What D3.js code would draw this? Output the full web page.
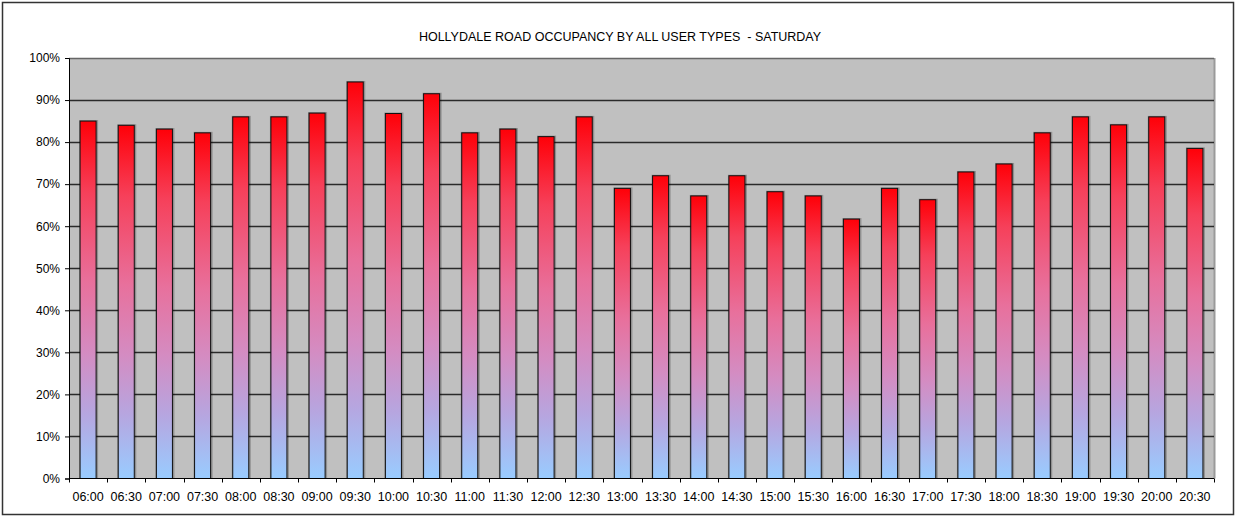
<!DOCTYPE html>
<html>
<head>
<meta charset="utf-8">
<script src="https://cdn.jsdelivr.net/npm/d3@7"></script>
<style>
  html, body { margin: 0; padding: 0; background: #fff; }
  svg { display: block; }
  text { font-family: "Liberation Sans", Arial, sans-serif; fill: #000; }
</style>
</head>
<body>
<svg id="chart" width="1236" height="517"></svg>
<script>
// Half-hour time slots across the day
const times = ["06:00","06:30","07:00","07:30","08:00","08:30","09:00","09:30","10:00","10:30",
  "11:00","11:30","12:00","12:30","13:00","13:30","14:00","14:30","15:00","15:30",
  "16:00","16:30","17:00","17:30","18:00","18:30","19:00","19:30","20:00","20:30"];

// Occupancy (fraction of spaces used) per slot
const occupancy = [0.85, 0.84, 0.831, 0.822, 0.86, 0.86, 0.869, 0.943, 0.868, 0.915,
  0.822, 0.831, 0.813, 0.86, 0.69, 0.72, 0.672, 0.72, 0.682, 0.672,
  0.617, 0.69, 0.663, 0.729, 0.748, 0.822, 0.86, 0.841, 0.86, 0.785];

const yTicks = [0, 0.1, 0.2, 0.3, 0.4, 0.5, 0.6, 0.7, 0.8, 0.9, 1.0];
const title = "HOLLYDALE ROAD OCCUPANCY BY ALL USER TYPES  - SATURDAY";

const svg = d3.select("#chart");
const plot = { left: 69, right: 1214, top: 58, bottom: 478.5 };

const x = d3.scaleBand().domain(times).range([plot.left, plot.right]).paddingInner(0.58).paddingOuter(0.29);
const xEdge = d3.scaleBand().domain(times).range([plot.left, plot.right]);
const y = d3.scaleLinear().domain([0, 1]).range([plot.bottom, plot.top]);

// Gradient from red at the bar top to light blue at its base
const defs = svg.append("defs");
const grad = defs.append("linearGradient").attr("id", "barFill")
  .attr("x1", 0).attr("y1", 0).attr("x2", 0).attr("y2", 1);
[[0, "#ff0008"], [0.2, "#f6405a"], [0.45, "#e8709c"], [0.65, "#d48cc2"],
 [0.82, "#b6a6e0"], [1, "#99ccff"]].forEach(([o, c]) =>
  grad.append("stop").attr("offset", o).attr("stop-color", c));

// Outer chart frame
svg.append("rect").attr("x", 2.5).attr("y", 2.5).attr("width", 1231).attr("height", 512)
  .attr("fill", "#fff").attr("stroke", "#333").attr("stroke-width", 1.5);

// Title
svg.append("text").attr("x", 620).attr("y", 41).attr("text-anchor", "middle")
  .style("font-size", "12.5px").style("white-space", "pre").text(title);

// Plot area background
svg.append("rect").attr("x", plot.left).attr("y", plot.top)
  .attr("width", plot.right - plot.left).attr("height", plot.bottom - plot.top)
  .attr("fill", "#c0c0c0");
svg.append("line").attr("x1", plot.right + 0.5).attr("x2", plot.right + 0.5)
  .attr("y1", plot.top).attr("y2", plot.bottom).attr("stroke", "#9a9a9a").attr("stroke-width", 2);

// Horizontal gridlines
svg.append("g").selectAll("line").data(yTicks.slice(1)).join("line")
  .attr("x1", plot.left).attr("x2", plot.right)
  .attr("y1", d => Math.round(y(d)) + 0.5).attr("y2", d => Math.round(y(d)) + 0.5)
  .attr("stroke", d => d === 1 ? "#666" : "#2a2a2a").attr("stroke-width", 1.3);

// Bar shadows
svg.append("g").selectAll("rect").data(occupancy).join("rect")
  .attr("x", (d, i) => x(times[i]) - 1)
  .attr("y", d => y(d) - 1)
  .attr("width", x.bandwidth() + 3)
  .attr("height", d => plot.bottom - y(d) + 1)
  .attr("fill", "#000").attr("opacity", 0.25);

// Bars
svg.append("g").selectAll("rect").data(occupancy).join("rect")
  .attr("x", (d, i) => x(times[i]))
  .attr("y", d => y(d))
  .attr("width", x.bandwidth())
  .attr("height", d => plot.bottom - y(d))
  .attr("fill", "url(#barFill)")
  .attr("stroke", "#111").attr("stroke-width", 1);

// Y axis
const yAxis = svg.append("g").attr("transform", `translate(${plot.left},0)`)
  .call(d3.axisLeft(y).tickValues(yTicks).tickFormat(d3.format(".0%")).tickSize(4).tickPadding(5));
yAxis.select(".domain").attr("stroke", "#000");
yAxis.selectAll("line").attr("stroke", "#000");
yAxis.selectAll("text").style("font-size", "12px").style("font-family", "Liberation Sans, Arial, sans-serif");

// X axis with ticks between categories
const xg = svg.append("g").attr("transform", `translate(0,${plot.bottom})`);
xg.append("line").attr("x1", plot.left).attr("x2", plot.right).attr("stroke", "#000");
xg.selectAll("line.tk").data(times.concat(["end"])).join("line").attr("class", "tk")
  .attr("x1", (d, i) => Math.round(plot.left + i * xEdge.step()) + 0.5)
  .attr("x2", (d, i) => Math.round(plot.left + i * xEdge.step()) + 0.5)
  .attr("y1", 0).attr("y2", 4).attr("stroke", "#000");
xg.selectAll("text").data(times).join("text")
  .attr("x", d => xEdge(d) + xEdge.bandwidth() / 2).attr("y", 22)
  .attr("text-anchor", "middle").style("font-size", "12.5px").text(d => d);
</script>
</body>
</html>
